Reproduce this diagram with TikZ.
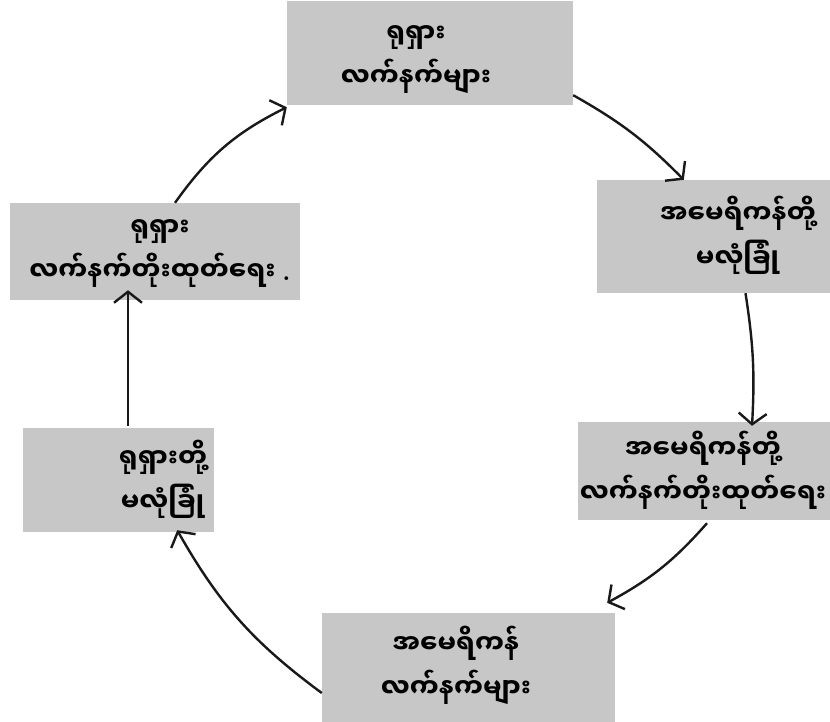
\documentclass[tikz,border=0pt]{standalone}
\usepackage{fontspec}
\newfontfamily\mya[Script=Myanmar]{Noto Sans Myanmar UI}
\usetikzlibrary{arrows.meta}
\tikzset{
  box/.style={draw=none, fill=black!22, rectangle, inner sep=0pt},
  lbl/.style={align=center, inner sep=0pt, font=\mya\bfseries\fontsize{26}{44}\selectfont, text=black},
  cyc/.style={line width=2.4pt, draw=black!90, -{Straight Barb[length=11pt,width=28pt,line width=2.4pt]}}
}
\begin{document}
\begin{tikzpicture}[x=1pt,y=-1pt]
\clip (0,0) rectangle (830,721);
\fill[white] (0,0) rectangle (830,721);
% boxes
\node[box, minimum width=286pt, minimum height=104pt] (top) at (430,53) {};
\node[box, minimum width=283pt, minimum height=113pt] (ru) at (738.5,236.5) {};
\node[box, minimum width=282pt, minimum height=98pt] (rl) at (719,471) {};
\node[box, minimum width=293pt, minimum height=112pt] (bot) at (468.5,669) {};
\node[box, minimum width=191pt, minimum height=104pt] (ll) at (118.5,480) {};
\node[box, minimum width=290pt, minimum height=97pt] (lu) at (155,251.5) {};
% labels
\node[lbl] (ttop) at (416,60) {ရုရှား\\လက်နက်များ};
\node[lbl] (tru) at (738,235) {အမေရိကန်တို့\\မလုံခြုံ};
\node[lbl] (trl) at (703,470) {အမေရိကန်တို့\\လက်နက်တိုးထုတ်ရေး};
\node[lbl] (tbot) at (456,665) {အမေရိကန်\\လက်နက်များ};
\node[lbl] (tlu) at (160,254) {ရုရှား\\လက်နက်တိုးထုတ်ရေး {\rmfamily .}};
\node[lbl] (tll) at (163,479) {ရုရှားတို့\\မလုံခြုံ};
% arrows
\draw[cyc] ([xshift=20pt]lu.north) to[bend left=14] ([yshift=-2pt]top.south west);
\draw[cyc] ([yshift=10pt]top.south east) to[bend left=8] ([xshift=87pt]ru.north west);
\draw[cyc] ([xshift=7pt]ru.south) to[bend left=6] ([xshift=33pt,yshift=-4pt]rl.north);
\draw[cyc] ([xshift=-12pt,yshift=-3pt]rl.south) to[bend left=10] ([xshift=-8pt,yshift=10pt]bot.north east);
\draw[cyc] ([yshift=-24pt]bot.west) to[bend left=12] ([xshift=-37pt,yshift=2pt]ll.south east);
\draw[cyc] ([xshift=9.5pt,yshift=2pt]ll.north) -- ([xshift=-27pt,yshift=10pt]lu.south);
\end{tikzpicture}
\end{document}
